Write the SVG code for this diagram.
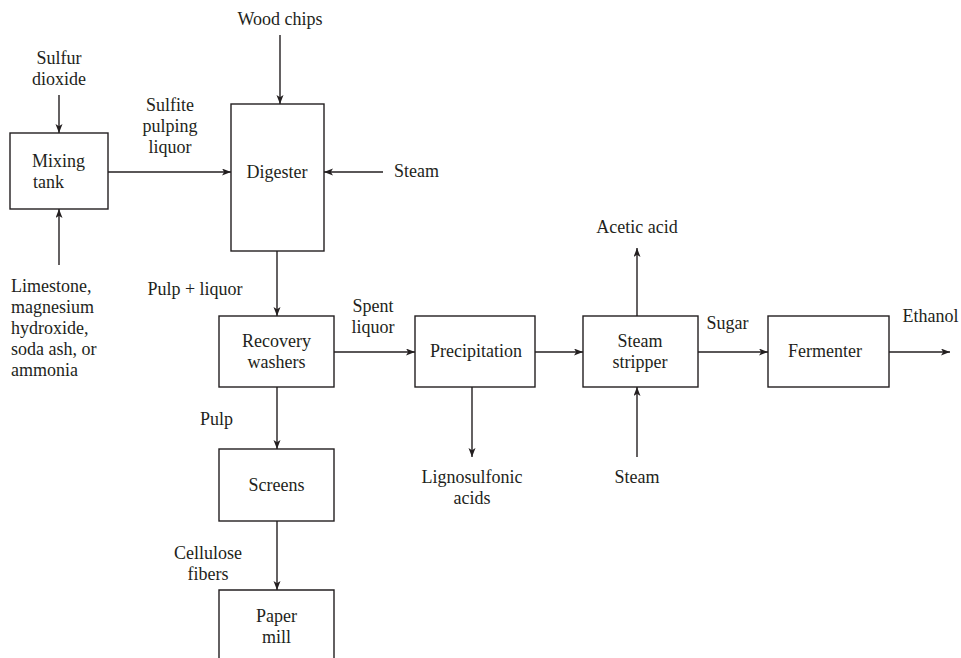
<svg xmlns="http://www.w3.org/2000/svg" width="961" height="658" viewBox="0 0 961 658">
<style>
text{font-family:"Liberation Serif","Times New Roman",serif;font-size:18px;fill:#231f20}
.c{text-anchor:middle}
.box{fill:#fff;stroke:#231f20;stroke-width:1.4}
.ln{fill:none;stroke:#231f20;stroke-width:1.4;marker-end:url(#ah)}
</style>
<defs>
<marker id="ah" markerUnits="userSpaceOnUse" markerWidth="10" markerHeight="8" refX="9" refY="3.5" orient="auto">
<path d="M0,0 L9,3.5 L0,7 L2.2,3.5 z" fill="#231f20"/>
</marker>
</defs>
<rect width="961" height="658" fill="#fff"/>
<g id="connectors">
<line class="ln" x1="59" y1="95" x2="59" y2="133"/>
<line class="ln" x1="59" y1="265" x2="59" y2="209"/>
<line class="ln" x1="108" y1="172" x2="231" y2="172"/>
<line class="ln" x1="280" y1="35" x2="280" y2="104"/>
<line class="ln" x1="383" y1="172" x2="324" y2="172"/>
<line class="ln" x1="277" y1="251" x2="277" y2="316"/>
<line class="ln" x1="334" y1="352" x2="415" y2="352"/>
<line class="ln" x1="277" y1="387" x2="277" y2="449"/>
<line class="ln" x1="277" y1="521" x2="277" y2="590"/>
<line class="ln" x1="472" y1="387" x2="472" y2="457"/>
<line class="ln" x1="535" y1="352" x2="583" y2="352"/>
<line class="ln" x1="637" y1="316" x2="637" y2="248"/>
<line class="ln" x1="637" y1="457" x2="637" y2="387"/>
<line class="ln" x1="698" y1="352" x2="768" y2="352"/>
<line class="ln" x1="889" y1="352" x2="950" y2="352"/>
</g>
<g id="labels">
<text class="c" x="59" y="64">Sulfur</text>
<text class="c" x="59" y="85">dioxide</text>
<text class="c" x="280" y="25">Wood chips</text>
<text class="c" x="170" y="110.5">Sulfite</text>
<text class="c" x="170" y="131.5">pulping</text>
<text class="c" x="170" y="152.5">liquor</text>
<text x="394" y="177">Steam</text>
<text x="11" y="292">Limestone,</text>
<text x="11" y="313">magnesium</text>
<text x="11" y="334">hydroxide,</text>
<text x="11" y="355">soda ash, or</text>
<text x="11" y="376">ammonia</text>
<text class="c" x="195" y="295">Pulp + liquor</text>
<text class="c" x="373" y="312">Spent</text>
<text class="c" x="373" y="333">liquor</text>
<text class="c" x="216.5" y="425">Pulp</text>
<text class="c" x="208" y="558.5">Cellulose</text>
<text class="c" x="208" y="580">fibers</text>
<text class="c" x="472" y="482.5">Lignosulfonic</text>
<text class="c" x="472" y="504">acids</text>
<text class="c" x="637" y="233">Acetic acid</text>
<text class="c" x="637" y="482.5">Steam</text>
<text class="c" x="727.5" y="328.5">Sugar</text>
<text x="902.5" y="322">Ethanol</text>
</g>
<g id="mixing-tank">
<rect class="box" x="10" y="133" width="98" height="76"/>
<text x="32" y="166.5">Mixing</text>
<text x="33" y="188">tank</text>
</g>
<g id="digester">
<rect class="box" x="231" y="104" width="93" height="147"/>
<text class="c" x="277" y="178">Digester</text>
</g>
<g id="recovery-washers">
<rect class="box" x="219" y="316" width="115" height="71"/>
<text class="c" x="276.5" y="347">Recovery</text>
<text class="c" x="276.5" y="368">washers</text>
</g>
<g id="screens">
<rect class="box" x="219" y="449" width="115" height="72"/>
<text class="c" x="276.5" y="490.5">Screens</text>
</g>
<g id="paper-mill">
<path class="box" d="M219,662 L219,590 L334,590 L334,662"/>
<text class="c" x="276.5" y="621.5">Paper</text>
<text class="c" x="276.5" y="642.5">mill</text>
</g>
<g id="precipitation">
<rect class="box" x="415" y="316" width="120" height="71"/>
<text class="c" x="476" y="357">Precipitation</text>
</g>
<g id="steam-stripper">
<rect class="box" x="583" y="316" width="115" height="71"/>
<text class="c" x="640" y="346.5">Steam</text>
<text class="c" x="640" y="368">stripper</text>
</g>
<g id="fermenter">
<rect class="box" x="768" y="316" width="121" height="71"/>
<text class="c" x="825" y="357">Fermenter</text>
</g>
</svg>
